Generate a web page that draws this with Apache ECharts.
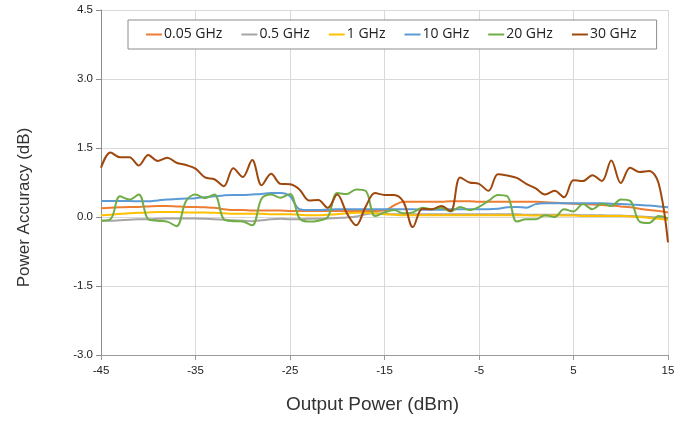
<!DOCTYPE html>
<html><head><meta charset="utf-8">
<script src="https://cdn.jsdelivr.net/npm/echarts@6/dist/echarts.min.js"></script>
<style>html,body{margin:0;padding:0;background:#fff}#c{width:692px;height:425px}</style>
</head><body><div id="c"></div>
<script>
const xPower = [-45,-44,-43,-42,-41,-40,-39,-38,-37,-36,-35,-34,-33,-32,-31,-30,-29,-28,-27,-26,-25,-24,-23,-22,-21,-20,-19,-18,-17,-16,-15,-14,-13,-12,-11,-10,-9,-8,-7,-6,-5,-4,-3,-2,-1,0,1,2,3,4,5,6,7,8,9,10,11,12,13,14,15];
const seriesNames = ['0.05 GHz','0.5 GHz','1 GHz','10 GHz','20 GHz','30 GHz'];
const s005 = [0.19,0.20,0.21,0.22,0.22,0.23,0.24,0.24,0.23,0.22,0.22,0.21,0.20,0.17,0.15,0.15,0.14,0.14,0.14,0.14,0.13,0.13,0.13,0.13,0.13,0.13,0.13,0.13,0.13,0.13,0.14,0.25,0.33,0.33,0.33,0.33,0.33,0.34,0.34,0.34,0.33,0.33,0.33,0.33,0.33,0.33,0.33,0.32,0.31,0.30,0.29,0.28,0.27,0.26,0.25,0.23,0.21,0.18,0.15,0.13,0.10];
const s05 = [-0.08,-0.08,-0.07,-0.06,-0.05,-0.05,-0.04,-0.03,-0.03,-0.03,-0.03,-0.04,-0.05,-0.06,-0.07,-0.08,-0.09,-0.07,-0.05,-0.04,-0.05,-0.05,-0.04,-0.04,-0.03,-0.02,-0.01,0.01,0.06,0.08,0.07,0.06,0.06,0.06,0.06,0.06,0.06,0.06,0.06,0.06,0.06,0.06,0.06,0.06,0.06,0.05,0.05,0.05,0.05,0.05,0.05,0.04,0.04,0.04,0.03,0.03,0.02,0.01,0.00,-0.01,-0.02];
const s1 = [0.04,0.05,0.07,0.08,0.09,0.10,0.11,0.11,0.11,0.10,0.10,0.10,0.09,0.08,0.07,0.07,0.07,0.07,0.06,0.06,0.06,0.05,0.04,0.04,0.05,0.06,0.08,0.09,0.09,0.08,0.06,0.05,0.04,0.04,0.04,0.04,0.04,0.04,0.04,0.04,0.04,0.04,0.04,0.04,0.04,0.04,0.03,0.03,0.03,0.03,0.03,0.02,0.02,0.02,0.02,0.02,0.01,0.00,-0.02,-0.04,-0.06];
const s10 = [0.35,0.35,0.35,0.35,0.34,0.34,0.36,0.38,0.39,0.40,0.41,0.43,0.45,0.47,0.48,0.48,0.49,0.50,0.52,0.52,0.45,0.17,0.15,0.15,0.16,0.17,0.17,0.17,0.17,0.17,0.17,0.17,0.17,0.17,0.16,0.16,0.16,0.17,0.17,0.17,0.17,0.17,0.18,0.21,0.22,0.20,0.28,0.30,0.30,0.30,0.30,0.30,0.30,0.30,0.29,0.28,0.27,0.26,0.25,0.23,0.21];
const s20 = [-0.08,-0.05,0.45,0.38,0.49,-0.05,-0.08,-0.10,-0.20,0.35,0.49,0.41,0.49,-0.05,-0.09,-0.10,-0.18,0.40,0.49,0.42,0.50,-0.03,-0.10,-0.08,0.00,0.52,0.50,0.60,0.57,0.02,0.10,0.15,0.08,0.10,0.20,0.17,0.20,0.12,0.22,0.15,0.22,0.35,0.48,0.45,-0.10,-0.05,-0.05,0.04,0.00,0.17,0.12,0.28,0.17,0.29,0.24,0.38,0.35,-0.10,-0.13,0.02,-0.03];
const s30 = [1.07,1.40,1.30,1.30,1.12,1.35,1.22,1.29,1.18,1.13,1.05,0.86,0.82,0.67,1.06,0.87,1.24,0.69,0.94,0.72,0.71,0.60,0.36,0.37,0.20,0.49,0.09,-0.18,0.22,0.52,0.48,0.48,0.33,-0.22,0.18,0.17,0.24,0.13,0.86,0.75,0.72,0.57,0.93,0.90,0.85,0.72,0.62,0.49,0.57,0.43,0.80,0.78,0.91,0.78,1.23,0.74,1.07,0.98,1.00,0.74,-0.55];
const yTicks = ['-3.0','-1.5','0.0','1.5','3.0','4.5'];
const colors = ['#ED7D31','#A5A5A5','#FFC000','#5B9BD5','#70AD47','#9E480E'];
const allSeries = [s005,s05,s1,s10,s20,s30];

const chart = echarts.init(document.getElementById('c'));
chart.setOption({
  animation:false,
  backgroundColor:'#fff',
  color: colors,
  grid:{left:101,right:24,top:10,bottom:70},
  legend:{
    left:128, top:20,
    data: seriesNames,
    backgroundColor:'#fff', borderColor:'#8c8c8c', borderWidth:1,
    padding:[7.5,20,7.5,18],
    itemWidth:16, itemHeight:2, itemGap:19, icon:'rect',
    textStyle:{fontFamily:'Open Sans',fontSize:14,color:'#222',padding:[0,0,0,-3]}
  },
  xAxis:{
    type:'value', min:-45, max:15, interval:10,
    name:'Output Power (dBm)', nameLocation:'middle', nameGap:40,
    nameTextStyle:{fontFamily:'Liberation Sans',fontSize:19,color:'#333',padding:[0,24,0,0]},
    axisLine:{onZero:false,lineStyle:{color:'#9a9a9a'}},
    axisTick:{show:true,length:5,lineStyle:{color:'#9a9a9a'}},
    axisLabel:{fontFamily:'Liberation Sans',fontSize:11.5,color:'#222',margin:10},
    splitLine:{show:true,lineStyle:{color:'#d9d9d9'}}
  },
  yAxis:{
    type:'value', min:-3, max:4.5, interval:1.5,
    name:'Power Accuracy (dB)', nameLocation:'middle', nameGap:68, nameRotate:90,
    nameTextStyle:{fontFamily:'Liberation Sans',fontSize:17,color:'#333',padding:[0,50,0,0]},
    axisLine:{show:true,onZero:false,lineStyle:{color:'#8c8c8c'}},
    axisTick:{show:true,length:5,lineStyle:{color:'#8c8c8c'}},
    axisLabel:{fontFamily:'Liberation Sans',fontSize:11.5,color:'#222',margin:8,
      formatter:function(v){const s=v.toFixed(1);return yTicks.indexOf(s)>=0?s:s;}},
    splitLine:{show:true,lineStyle:{color:'#d9d9d9'}}
  },
  series: seriesNames.map(function(n,i){
    return {name:n,type:'line',smooth:0.35,showSymbol:false,
      lineStyle:{width:2,color:colors[i]},itemStyle:{color:colors[i]},
      data: xPower.map(function(x,j){return [x,allSeries[i][j]];})};
  })
});
</script></body></html>
